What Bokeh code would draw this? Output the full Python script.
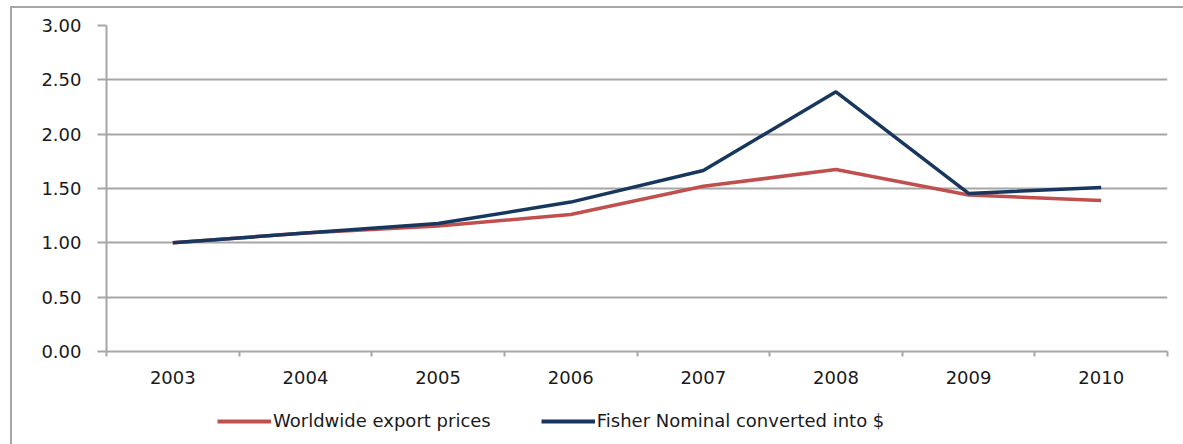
from bokeh.plotting import figure
from bokeh.layouts import column
from bokeh.models import (Range1d, FixedTicker, NumeralTickFormatter, Legend, LegendItem,
                          ColumnDataSource)
from bokeh.embed import file_html
from bokeh.resources import INLINE

years = ["2003", "2004", "2005", "2006", "2007", "2008", "2009", "2010"]
worldwide_export_prices = [1.00, 1.09, 1.155, 1.26, 1.52, 1.675, 1.44, 1.39]
fisher_nominal_usd = [1.00, 1.09, 1.177, 1.375, 1.665, 2.39, 1.455, 1.51]
y_ticks = [0.0, 0.5, 1.0, 1.5, 2.0, 2.5, 3.0]
series_names = ["Worldwide export prices", "Fisher Nominal converted into $"]

FONT = "DejaVu Sans"
FS = "18px"
GRID = "#a6a6a6"
RED = "#c0504d"
NAVY = "#17375e"
TXT = "#1a1a1a"

x_pos = [i + 0.5 for i in range(len(years))]
src = ColumnDataSource(dict(x=x_pos, red=worldwide_export_prices, navy=fisher_nominal_usd))

W = 1171
p = figure(width=W, height=388, output_backend="svg", toolbar_location=None,
           x_range=Range1d(0, len(years)), y_range=Range1d(0, 3),
           min_border_left=94, min_border_right=16, min_border_top=17, min_border_bottom=45)
p.outline_line_color = None
p.background_fill_color = "white"
p.border_fill_color = "white"

p.line("x", "red", source=src, line_color=RED, line_width=3.5)
p.line("x", "navy", source=src, line_color=NAVY, line_width=3.5)

# y axis
p.yaxis.ticker = FixedTicker(ticks=y_ticks, minor_ticks=[])
p.yaxis.formatter = NumeralTickFormatter(format="0.00")
p.yaxis.axis_line_color = GRID
p.yaxis.axis_line_width = 2
p.yaxis.major_tick_line_color = GRID
p.yaxis.major_tick_line_width = 2
p.yaxis.major_tick_out = 9
p.yaxis.major_tick_in = 0
p.yaxis.minor_tick_line_color = None
p.yaxis.major_label_standoff = 16
p.yaxis.major_label_text_font = FONT
p.yaxis.major_label_text_font_size = FS
p.yaxis.major_label_text_color = TXT

# x axis: labels at category centres, ticks at category boundaries
p.xaxis.ticker = FixedTicker(ticks=x_pos, minor_ticks=list(range(len(years) + 1)))
p.xaxis.major_label_overrides = {x: y for x, y in zip(x_pos, years)}
p.xaxis.axis_line_color = GRID
p.xaxis.axis_line_width = 2
p.xaxis.major_tick_line_color = None
p.xaxis.major_tick_out = 0
p.xaxis.major_tick_in = 0
p.xaxis.minor_tick_line_color = GRID
p.xaxis.minor_tick_line_width = 2
p.xaxis.minor_tick_out = 5
p.xaxis.minor_tick_in = 0
p.xaxis.major_label_standoff = 14
p.xaxis.major_label_text_font = FONT
p.xaxis.major_label_text_font_size = FS
p.xaxis.major_label_text_color = TXT

p.xgrid.grid_line_color = None
p.ygrid.ticker = FixedTicker(ticks=y_ticks)
p.ygrid.grid_line_color = GRID
p.ygrid.grid_line_width = 2

# legend strip below the chart (its frame is aligned with the chart's frame)
q = figure(width=W, height=48, output_backend="svg", toolbar_location=None,
           x_range=Range1d(0, len(years)), y_range=Range1d(10, 11),
           min_border_left=94, min_border_right=16, min_border_top=0, min_border_bottom=0)
q.axis.visible = False
q.grid.visible = False
q.outline_line_color = None
q.border_fill_color = "white"
k1 = q.line("x", "red", source=src, line_color=RED, line_width=4)
k2 = q.line("x", "navy", source=src, line_color=NAVY, line_width=4)
legend = Legend(items=[LegendItem(label=series_names[0], renderers=[k1]),
                       LegendItem(label=series_names[1], renderers=[k2])],
                orientation="horizontal", location=(111, 13),
                border_line_color=None, background_fill_alpha=0,
                glyph_width=54, glyph_height=20, label_standoff=2, spacing=50,
                padding=0, margin=0, label_height=20,
                label_text_font=FONT, label_text_font_size=FS,
                label_text_color=TXT)
q.add_layout(legend)

layout = column(p, q, spacing=0)
layout.styles = {"border-left": "2px solid #a6a6a6", "border-top": "2px solid #a6a6a6",
                 "margin-left": "10px", "margin-top": "6px"}

open("out.html", "w").write(file_html(layout, INLINE))
